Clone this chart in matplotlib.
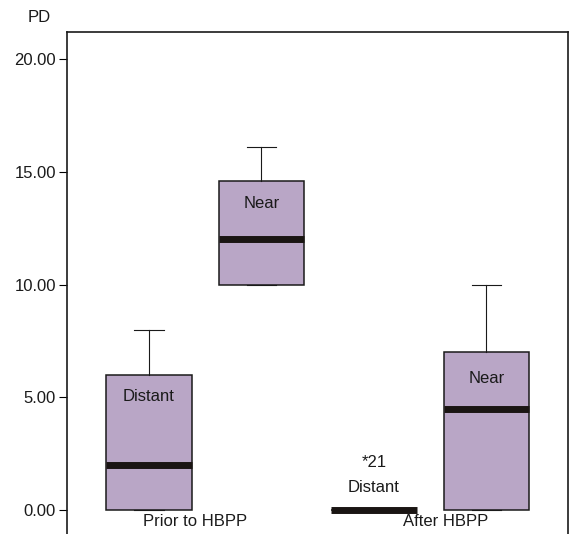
import matplotlib.pyplot as plt

plt.rcParams['font.family'] = ['Liberation Sans', 'DejaVu Sans']

# box statistics (PD)
positions = [1, 2, 3, 4]
box_names = ['Distant', 'Near', 'Distant', 'Near']
q1_vals = [0.0, 10.0, 0.0, 0.0]
median_vals = [2.0, 12.0, 0.0, 4.5]
q3_vals = [6.0, 14.6, 0.0, 7.0]
whis_low = [0.0, 10.0, 0.0, 0.0]
whis_high = [8.0, 16.1, 0.0, 10.0]

# outlier marker in "After HBPP / Distant" group
outlier_label = '*21'
outlier_value = 2.1

group_names = ['Prior to HBPP', 'After HBPP']
yticks = [0, 5, 10, 15, 20]

box_color = '#b9a6c6'

fig = plt.figure(figsize=(5.69, 5.34), dpi=100)
ax = fig.add_axes([67/569, 0.0, 500.5/569, (534-32)/534])

stats = []
for i in range(len(positions)):
    stats.append(dict(med=median_vals[i], q1=q1_vals[i], q3=q3_vals[i],
                      whislo=whis_low[i], whishi=whis_high[i], fliers=[]))

ax.bxp(stats, positions=positions, widths=0.76, patch_artist=True,
       showfliers=False,
       boxprops=dict(facecolor=box_color, edgecolor='#1a1a1a', linewidth=1.1),
       medianprops=dict(color='#1a1513', linewidth=5, solid_capstyle='butt'),
       whiskerprops=dict(color='#1a1a1a', linewidth=0.8),
       capprops=dict(color='#1a1a1a', linewidth=0.8), capwidths=0.26)

# names inside boxes
name_y = [5.05, 13.6, 1.0, 5.85]
for p, nm, y in zip(positions, box_names, name_y):
    ax.text(p, y, nm, ha='center', va='center', fontsize=12, color='#1a1a1a')
ax.text(3, outlier_value, outlier_label, ha='center', va='center', fontsize=12,
        color='#1a1a1a')

# group labels sitting inside the plot at the bottom
for x, g in zip([1.41, 3.635], group_names):
    ax.text(x, -0.5, g, ha='center', va='center', fontsize=12, color='#1a1a1a')

ax.set_xlim(0.272, 4.72)
ax.set_ylim(-1.06, 21.2)
ax.set_yticks(yticks)
ax.set_yticklabels(['%.2f' % v for v in yticks], fontsize=12, color='#1a1a1a')
ax.set_xticks([])
ax.spines['bottom'].set_visible(False)
for s in ['left', 'top', 'right']:
    ax.spines[s].set_linewidth(1.2)
    ax.spines[s].set_color('#1a1a1a')
ax.tick_params(axis='y', direction='out', length=6, width=0.8, pad=2)

fig.text(28/569, 1 - 17/534, 'PD', ha='left', va='center', fontsize=12,
         color='#1a1a1a')

fig.savefig('out.png', dpi=100)
